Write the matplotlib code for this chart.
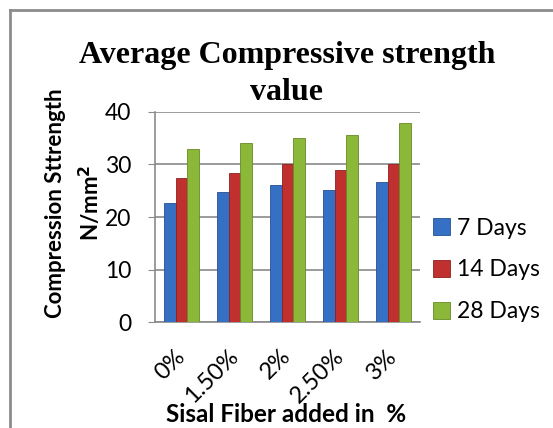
import matplotlib
matplotlib.use("Agg")
import matplotlib.pyplot as plt
from matplotlib.lines import Line2D
import numpy as np

categories = ["0%", "1.50%", "2%", "2.50%", "3%"]
series_names = ["7 Days", "14 Days", "28 Days"]
days7 = [22.6, 24.8, 26.0, 25.1, 26.7]
days14 = [27.5, 28.4, 30.1, 29.0, 30.0]
days28 = [32.9, 34.1, 35.0, 35.5, 37.9]
yticks = [0, 10, 20, 30, 40]

colors = ["#3570C4", "#C0302E", "#8CB83A"]
edges = ["#24518F", "#8E2020", "#678A25"]

W, H = 553, 428
fig = plt.figure(figsize=(W / 100, H / 100), dpi=100)
fig.patch.set_facecolor("white")

sans = ["Lato", "DejaVu Sans"]

# outer border (chart frame cropped at right/bottom)
fig.add_artist(Line2D([10 / W, 1], [1 - 10 / H, 1 - 10 / H], transform=fig.transFigure,
                      color="#8C8C8C", lw=2))
fig.add_artist(Line2D([10 / W, 10 / W], [0, 1 - 10 / H], transform=fig.transFigure,
                      color="#8C8C8C", lw=2))

ax = fig.add_axes([155 / W, (H - 322.3) / H, 265 / W, (322.3 - 111.7) / H])
x = np.arange(len(categories))
bw = 0.22
for i, (vals, c, e, name) in enumerate(zip([days7, days14, days28], colors, edges, series_names)):
    ax.bar(x + (i - 1) * bw, vals, width=bw, color=c, edgecolor=e, linewidth=0.6,
           label=name, zorder=3)

ax.set_xlim(-0.5, len(categories) - 0.5)
ax.set_ylim(0, 40)
ax.set_yticks(yticks)
ax.set_yticklabels([str(v) for v in yticks], fontsize=16.5, family=sans)
ax.yaxis.grid(True, color="#8A8A8A", lw=1.2, zorder=0)
ax.set_axisbelow(True)
for s in ["top", "right"]:
    ax.spines[s].set_visible(False)
ax.spines["left"].set_color("#8A8A8A")
ax.spines["bottom"].set_color("#8A8A8A")
ax.spines["left"].set_linewidth(1.2)
ax.spines["bottom"].set_linewidth(1.2)
ax.tick_params(axis="y", length=5, color="#8A8A8A", pad=12)
ax.tick_params(axis="x", length=0, pad=22)
ax.set_xticks(x)
ax.set_xticklabels(categories, rotation=45, ha="right", va="center", rotation_mode="anchor",
                   fontsize=17, family=sans)

fig.text(287 / W, 1 - 55 / H, "Average Compressive strength", ha="center", va="center",
         fontsize=23, fontweight="bold", family="Liberation Serif")
fig.text(287 / W, 1 - 92 / H, "value", ha="center", va="center",
         fontsize=23, fontweight="bold", family="Liberation Serif")

fig.text(56 / W, 1 - 203 / H, "Compression Sttrength", rotation=90, ha="center", va="center",
         fontsize=16, fontweight="bold", family=sans)
fig.text(90 / W, 1 - 203 / H, "N/mm$^\\mathbf{2}$", rotation=90, ha="center", va="center",
         fontsize=16, fontweight="bold", family=sans)

fig.text(286 / W, 1 - 414 / H, "Sisal Fiber added in  %", ha="center", va="center",
         fontsize=17.5, fontweight="bold", family=sans)

leg = ax.legend(loc="center left", bbox_to_anchor=(424 / W, 1 - 270 / H),
                bbox_transform=fig.transFigure, frameon=False, prop={"family": sans, "size": 16.5},
                handlelength=0.75, handleheight=0.75, handletextpad=0.3, labelspacing=0.9,
                borderaxespad=0)

fig.savefig("out.png", dpi=100)
